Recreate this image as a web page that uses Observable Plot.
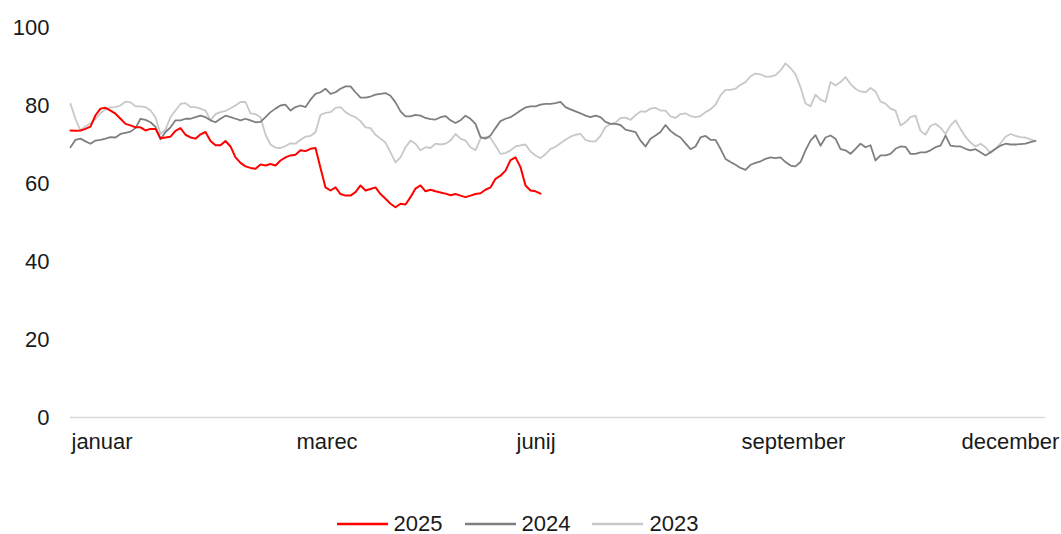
<!DOCTYPE html>
<html><head><meta charset="utf-8">
<script src="https://cdn.jsdelivr.net/npm/d3@7"></script>
<script src="https://cdn.jsdelivr.net/npm/@observablehq/plot@0.6"></script>
<style>
body{margin:0;background:#fff;font-family:"Liberation Sans",Arial,sans-serif;}
#legend{display:flex;justify-content:center;align-items:center;padding-right:26px;margin-top:12px;height:24px;font-size:22px;color:#1a1a1a;}
.item{display:flex;align-items:center;margin:0 11px;}
.item svg{margin-right:6px;}
</style></head><body><div id="chart"></div><div id="legend"></div>
<script>
const years = ["2025", "2024", "2023"];
const colors = ["#ff0000", "#7f7f7f", "#c8c8c8"];
const monthLabels = ["januar", "marec", "junij", "september", "december"];
const monthDayIndex = [0, 45, 89, 134, 178];
const yTicks = [0, 20, 40, 60, 80, 100];

const v2025 = [
  73.6, 73.5, 73.6, 74, 74.6, 77.5, 79.2, 79.4, 78.7, 77.9,
  76.6, 75.3, 74.9, 74.4, 74.4, 73.6, 74, 74, 71.6, 71.8,
  72, 73.5, 74.2, 72.5, 71.8, 71.5, 72.6, 73.2, 70.9, 69.8,
  69.8, 70.9, 69.5, 66.7, 65.3, 64.4, 64, 63.8, 64.9, 64.6,
  65, 64.6, 65.9, 66.7, 67.2, 67.4, 68.5, 68.3, 68.9, 69.1,
  64, 59, 58.2, 59, 57.3, 56.9, 56.9, 57.8, 59.5, 58.2,
  58.6, 59, 57.3, 56.1, 54.8, 53.9, 54.8, 54.6, 56.5, 58.7,
  59.5, 58, 58.4, 58, 57.7, 57.4, 57, 57.3, 56.9, 56.5,
  56.9, 57.3, 57.5, 58.4, 59, 61.2, 62, 63.3, 66, 66.7,
  64.2, 59.5, 58.2, 58, 57.4
];
const v2024 = [
  69.3, 71.2, 71.5, 70.8, 70.2, 71, 71.2, 71.5, 71.9, 71.8,
  72.7, 73, 73.3, 74.2, 76.6, 76.3, 75.7, 74.5, 71.3, 73.2,
  74.4, 76.2, 76.2, 76.6, 76.6, 77, 77.4, 77, 76.2, 75.7,
  76.6, 77.4, 77, 76.6, 76.2, 76.6, 76.2, 75.7, 75.8, 77,
  78.3, 79.2, 80, 80.2, 78.7, 79.6, 80, 79.6, 81.5, 83,
  83.4, 84.3, 83, 83.4, 84.3, 84.9, 84.9, 83.4, 82, 82,
  82.3, 82.8, 83, 83.2, 82.5, 80.8, 78.5, 77.2, 77.2, 77.6,
  77.4, 76.8, 76.5, 76.4, 77, 77.3, 76.2, 75.5, 76.2, 77.4,
  76.6, 75.3, 71.9, 71.5, 72.3, 74.2, 76, 76.6, 77, 77.8,
  78.7, 79.5, 79.8, 79.8, 80.2, 80.4, 80.4, 80.6, 80.9, 79.6,
  79, 78.5, 78, 77.4, 77, 77.4, 77, 75.8, 75.3, 75.3,
  75, 73.8, 73.5, 73.2, 71, 69.5, 71.5, 72.3, 73.2, 75,
  73.5, 72.5, 71.8, 70.3, 68.8, 69.5, 71.8, 72.2, 71.2, 71.2,
  68.9, 66.3, 65.5, 64.8, 64, 63.5, 64.8, 65.3, 65.7, 66.3,
  66.7, 66.5, 66.7, 65.5, 64.6, 64.4, 65.5, 68.5, 71, 72.4,
  69.7, 71.8, 72.3, 71.5, 68.8, 68.5, 67.6, 68.9, 70.2, 69.3,
  69.8, 65.9, 67.2, 67.2, 67.6, 68.9, 69.5, 69.4, 67.6, 67.6,
  68, 68, 68.5, 69.3, 69.7, 72.3, 69.7, 69.5, 69.5, 68.9,
  68.5, 68.8, 68, 67.2, 68, 68.9, 69.7, 70.2, 70, 70,
  70.1, 70.2, 70.6, 70.9
];
const v2023 = [
  80.4, 76.5, 73.6, 74.6, 75.4, 76.6, 78, 79, 79.5, 79.6,
  80, 81, 80.8, 79.8, 79.8, 79.6, 78.7, 77, 72.7, 73.8,
  77, 78.7, 80.4, 80.6, 79.6, 79.6, 79.2, 78.7, 76.2, 77.8,
  78.3, 78.6, 79.3, 80, 80.9, 80.9, 78, 77.8, 77, 72.5,
  70, 69.2, 69.1, 69.6, 70.3, 70.2, 71.2, 72, 72.2, 73.2,
  77.6, 78.1, 78.3, 79.4, 79.6, 78.3, 77.5, 77, 76, 74.4,
  74.2, 72.5, 71.5, 70.5, 68, 65.4, 66.7, 69.3, 71, 70.2,
  68.5, 69.3, 69.1, 70.2, 70, 70.2, 71, 72.7, 71.5, 71,
  69.3, 68.5, 71.5, 71.9, 71.7, 69.7, 67.6, 67.8, 68.5, 69.5,
  69.8, 70, 68.2, 67.2, 66.5, 67.5, 68.9, 69.4, 70.3, 71.2,
  72, 72.5, 72.7, 71.2, 70.8, 70.8, 72.2, 74.5, 75.2, 75.6,
  76.8, 76.9, 76.3, 77.5, 78.5, 78.4, 79.2, 79.4, 78.7, 78.7,
  77.2, 76.8, 77.8, 78, 77.3, 77, 77.3, 78.3, 79, 80.2,
  82.6, 84, 84, 84.3, 85.3, 86, 87.5, 88.2, 88, 87.4,
  87.4, 87.8, 89, 90.8, 89.6, 88, 84.7, 80.5, 79.8, 82.8,
  81.5, 80.9, 86, 85.1, 86, 87.3, 85.5, 84.3, 83.6, 83.4,
  84.5, 83.6, 81, 80.5, 79.2, 78.7, 74.9, 75.7, 77, 77.4,
  73.5, 72.5, 74.8, 75.3, 74.3, 72.7, 74.9, 76.2, 74, 72,
  70.5, 69.5, 70.2, 69.3, 67.8, 68.9, 70.3, 72, 72.7, 72.2,
  71.9, 71.8, 71.3, 70.9
];

const seriesValues = [v2025, v2024, v2023];
const rows = years.map((y, k) => seriesValues[k].map((v, i) => ({year: y, day: i, value: v})));

const colorOf = Object.fromEntries(years.map((y, k) => [y, colors[k]]));

const chart = Plot.plot({
  width: 1061,
  height: 500,
  marginLeft: 70,
  marginRight: 16,
  marginTop: 27,
  marginBottom: 83,
  style: {fontFamily: "'Liberation Sans', Arial, sans-serif", fontSize: "22px", color: "#1a1a1a", background: "#fff"},
  x: {domain: [0, 195]},
  y: {domain: [0, 100]},
  marks: [
    Plot.ruleY([0], {stroke: "#d9d9d9", strokeWidth: 1.3}),
    Plot.axisY({ticks: yTicks, tickSize: 0, tickPadding: 21, label: null, fontSize: 22}),
    Plot.axisX({ticks: monthDayIndex, tickFormat: (d) => monthLabels[monthDayIndex.indexOf(d)], tickSize: 0, tickPadding: 16, textAnchor: "start", dx: 1, label: null, fontSize: 22}),
    Plot.line(rows[2], {x: "day", y: "value", stroke: colorOf["2023"], strokeWidth: 1.8, strokeLinejoin: "round"}),
    Plot.line(rows[1], {x: "day", y: "value", stroke: colorOf["2024"], strokeWidth: 1.8, strokeLinejoin: "round"}),
    Plot.line(rows[0], {x: "day", y: "value", stroke: colorOf["2025"], strokeWidth: 2, strokeLinejoin: "round"})
  ]
});
document.getElementById("chart").appendChild(chart);

const legend = document.getElementById("legend");
years.forEach((y, k) => {
  const item = document.createElement("div");
  item.className = "item";
  item.innerHTML = `<svg width="51" height="4"><line x1="0" y1="2" x2="51" y2="2" stroke="${colors[k]}" stroke-width="2.5"/></svg><span>${y}</span>`;
  legend.appendChild(item);
});
</script></body></html>
